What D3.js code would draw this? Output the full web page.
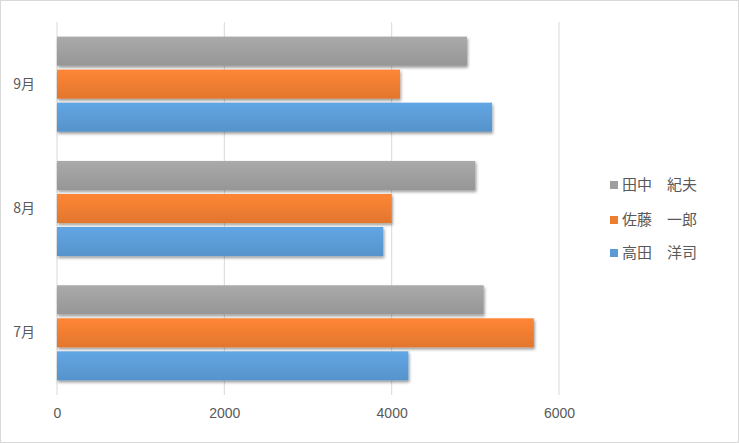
<!DOCTYPE html>
<html>
<head>
<meta charset="utf-8">
<script src="https://cdn.jsdelivr.net/npm/d3@7"></script>
<style>
  body { margin: 0; background: #fff; }
  svg text { font-family: "Noto Sans CJK JP", "Noto Sans", sans-serif; }
</style>
</head>
<body>
<svg id="chart"></svg>
<script>
// data
var months = ["7月", "8月", "9月"];
var people = ["高田　洋司", "佐藤　一郎", "田中　紀夫"];
var colors = ["#5b9bd5", "#ed7d31", "#9e9e9e"];
var takada = [4200, 3900, 5200];
var sato = [5700, 4000, 4100];
var tanaka = [5100, 5000, 4900];
var ticks = [0, 2000, 4000, 6000];

var series = [takada, sato, tanaka];

var W = 739, H = 443;
var margin = {top: 22, right: 180, bottom: 48, left: 57};
var width = W - margin.left - margin.right,
    height = H - margin.top - margin.bottom;

var svg = d3.select("#chart").attr("width", W).attr("height", H);

// chart border
svg.append("rect")
    .attr("x", 0.5).attr("y", 0.5)
    .attr("width", W - 1).attr("height", H - 1)
    .attr("fill", "#fff").attr("stroke", "#d9d9d9");

var defs = svg.append("defs");
var shadow = defs.append("filter").attr("id", "shadow")
    .attr("x", "-5%").attr("y", "-20%").attr("width", "110%").attr("height", "160%");
shadow.append("feDropShadow")
    .attr("dx", 1).attr("dy", 2).attr("stdDeviation", 1.8)
    .attr("flood-color", "#000").attr("flood-opacity", 0.4);

colors.forEach(function(c, i) {
  var g = defs.append("linearGradient").attr("id", "grad" + i)
      .attr("x1", 0).attr("y1", 0).attr("x2", 0).attr("y2", 1);
  g.append("stop").attr("offset", "0%").attr("stop-color", d3.color(c).brighter(0.2));
  g.append("stop").attr("offset", "100%").attr("stop-color", d3.color(c).darker(0.15));
});

var g = svg.append("g")
    .attr("transform", "translate(" + margin.left + "," + margin.top + ")");

var x = d3.scaleLinear().domain([0, 6000]).range([0, 502]);

// y: 7月 at bottom
var y = d3.scaleBand()
    .domain(months.slice().reverse())
    .range([0, height])
    .paddingInner(0.235)
    .paddingOuter(0.1175);

// within group: first series at bottom
var y1 = d3.scaleBand()
    .domain([2, 1, 0])
    .range([0, y.bandwidth()])
    .paddingInner(0.12);

// gridlines
g.selectAll(".grid")
    .data(ticks)
  .enter().append("line")
    .attr("class", "grid")
    .attr("x1", function(d) { return x(d); })
    .attr("x2", function(d) { return x(d); })
    .attr("y1", 0)
    .attr("y2", height)
    .attr("stroke", "#d9d9d9")
    .attr("stroke-width", 1);

// bars
months.forEach(function(m, mi) {
  var grp = g.append("g").attr("transform", "translate(0," + y(m) + ")");
  grp.selectAll("rect")
      .data(series.map(function(s, si) { return {si: si, v: s[mi]}; }))
    .enter().append("rect")
      .attr("x", 0)
      .attr("y", function(d) { return y1(d.si); })
      .attr("height", y1.bandwidth())
      .attr("width", function(d) { return x(d.v); })
      .attr("fill", function(d) { return "url(#grad" + d.si + ")"; })
      .attr("filter", "url(#shadow)");
});

// x axis labels
var xAxis = d3.axisBottom(x).tickValues(ticks).tickSize(0).tickPadding(13).tickFormat(d3.format("d"));
var xa = g.append("g").attr("transform", "translate(0," + height + ")").call(xAxis);
xa.select(".domain").remove();
xa.selectAll("text").attr("fill", "#595959").style("font-size", "14px")
    .style("font-family", "'Liberation Sans Narrow', 'Liberation Sans', Arial, sans-serif");

// y axis labels
var yAxis = d3.axisLeft(y).tickSize(0).tickPadding(22);
var ya = g.append("g").call(yAxis);
ya.select(".domain").remove();
ya.selectAll("text").attr("fill", "#595959").style("font-size", "14px")
    .style("font-family", "'Noto Sans CJK JP', sans-serif");

// legend (reverse order: 田中 on top)
var legendY = [185, 220, 253];
var legend = svg.append("g");
[2, 1, 0].forEach(function(si, i) {
  var row = legend.append("g").attr("transform", "translate(610," + legendY[i] + ")");
  row.append("rect")
      .attr("x", 0).attr("y", -4)
      .attr("width", 8).attr("height", 8)
      .attr("fill", colors[si]);
  row.append("text")
      .attr("x", 12).attr("dy", "0.36em")
      .attr("fill", "#595959")
      .style("font-size", "15px")
      .text(people[si]);
});
</script>
</body>
</html>
